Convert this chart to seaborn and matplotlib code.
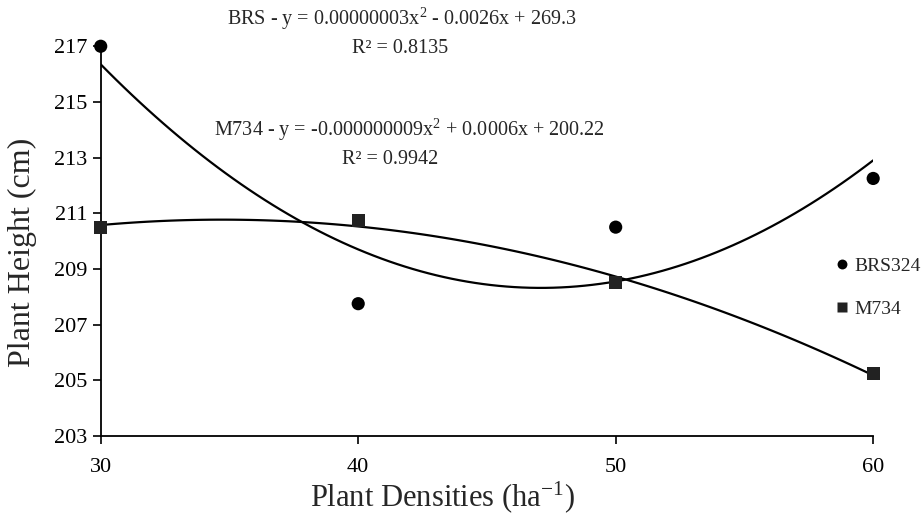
import pandas as pd
import seaborn as sns
import matplotlib.pyplot as plt

# plant densities (x1000 plants per ha) and plant height (cm)
densities = [30, 40, 50, 60]
brs324 = [217.0, 207.75, 210.5, 212.25]
m734 = [210.5, 210.75, 208.5, 205.25]
hybrids = ['BRS324', 'M734']
yticks = [203, 205, 207, 209, 211, 213, 215, 217]

df = pd.DataFrame({
    'Density': densities * 2,
    'Height': brs324 + m734,
    'Hybrid': [hybrids[0]] * 4 + [hybrids[1]] * 4,
})

sns.set_style('ticks')
plt.rcParams['font.family'] = ['Liberation Serif', 'DejaVu Serif']
plt.rcParams['mathtext.fontset'] = 'custom'
plt.rcParams['mathtext.rm'] = 'Liberation Serif'
plt.rcParams['mathtext.it'] = 'Liberation Serif:italic'

fig = plt.figure(figsize=(9.24, 5.14), dpi=100)
ax = fig.add_axes([0.109, 0.152, 0.836, 0.758])

# quadratic trend lines
for h in hybrids:
    sub = df[df['Hybrid'] == h]
    sns.regplot(x='Density', y='Height', data=sub, order=2, ci=None, scatter=False,
                line_kws={'color': 'black', 'lw': 1.6}, ax=ax)

sns.scatterplot(x='Density', y='Height', data=df, hue='Hybrid', style='Hybrid',
                markers={'BRS324': 'o', 'M734': 's'},
                palette={'BRS324': 'black', 'M734': '#222222'},
                s=90, edgecolor='none', ax=ax, clip_on=False, zorder=5)

ax.set_xlim(30, 60)
ax.set_ylim(203, 217)
ax.set_xticks(densities)
ax.set_yticks(yticks)
ax.tick_params(axis='both', labelsize=16, length=6, width=1.2, colors='black')
ax.tick_params(axis='x', pad=10)
sns.despine(ax=ax)
for s in ['left', 'bottom']:
    ax.spines[s].set_linewidth(1.3)
    ax.spines[s].set_color('black')

ax.set_xlabel(r'Plant Densities (ha$^{\mathregular{-1}}$)', fontsize=22)
ax.set_ylabel('Plant Height (cm)', fontsize=23)
ax.xaxis.set_label_coords(0.442, -0.112)
ax.yaxis.set_label_coords(-0.083, 0.472)

ax.text(0.39, 1.07, r'BRS - y = 0.00000003x$^{\mathregular{2}}$ - 0.0026x + 269.3',
        transform=ax.transAxes, ha='center', va='center', fontsize=14.5)
ax.text(0.387, 0.995, 'R² = 0.8135', transform=ax.transAxes, ha='center', va='center', fontsize=14.5)
ax.text(0.40, 0.785, r'M734 - y = -0.000000009x$^{\mathregular{2}}$ + 0.0006x + 200.22',
        transform=ax.transAxes, ha='center', va='center', fontsize=14.5)
ax.text(0.375, 0.71, 'R² = 0.9942', transform=ax.transAxes, ha='center', va='center', fontsize=14.5)

leg = ax.legend(loc='center left', bbox_to_anchor=(0.935, 0.38), frameon=False,
                fontsize=14, handletextpad=-0.4, labelspacing=1.3, markerscale=0.75,
                borderaxespad=0, borderpad=0)

fig.savefig('out.png', dpi=100)
